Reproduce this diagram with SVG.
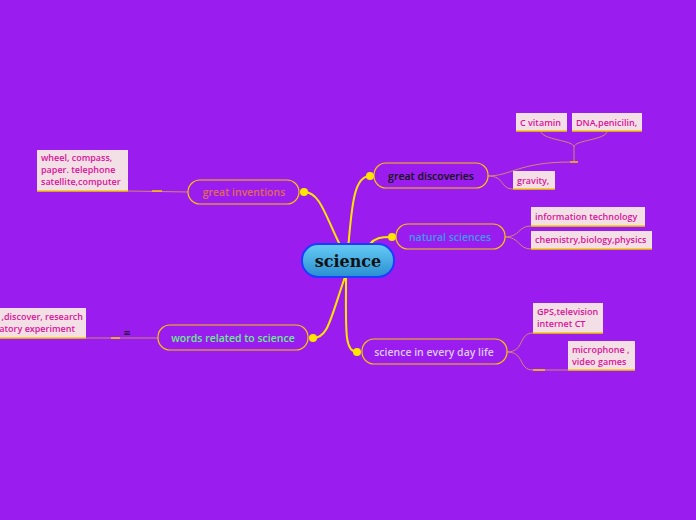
<svg xmlns="http://www.w3.org/2000/svg" width="696" height="520" viewBox="0 0 696 520">
<style>
.pill{fill:none;stroke:#f5c800;stroke-width:1.2}
.t{font-family:"Open Sans","DejaVu Sans",sans-serif;font-size:10.5px;font-weight:600;text-anchor:middle}
.leaf{fill:#f2e0e6}
.lt{font-family:"Open Sans","DejaVu Sans",sans-serif;font-size:9px;font-weight:600;fill:#dd1199}
.ub{stroke:#f5c800;stroke-width:1.5}
.thin{fill:none;stroke:#d08a70;stroke-width:1}
.main{fill:none;stroke:#ffe600;stroke-width:2}
.dot{fill:#ffe600}
</style>
<defs>
<linearGradient id="g" x1="0" y1="0" x2="0" y2="1">
<stop offset="0" stop-color="#66ccf5"/><stop offset="1" stop-color="#2a8fd0"/>
</linearGradient>
</defs>
<rect width="696" height="520" fill="#9b1cef"/>
<g id="connectors">
<path class="main" d="M348,250 C352,200 355,176 370,176"/>
<path class="main" d="M370,244 C375,238 380,237 392,237"/>
<path class="main" d="M346,277 C346,330 344,352 357,352"/>
<path class="main" d="M340,245 C325,215 320,192 304,192"/>
<path class="main" d="M345,277 C330,320 328,338 313,338"/>
<path class="thin" d="M488,176 C505,176 500,189 513,189"/>
<path class="thin" d="M488,176 C510,176 520,162 570,162 M574,162 L574,147 M574,147 C574,140 541,140 541,131 M574,147 C574,140 607,140 607,131"/>
<line class="ub" x1="570" y1="162" x2="578" y2="162"/>
<path class="thin" d="M505,237 C520,237 518,226 531,226 M505,237 C520,237 518,249 531,249"/>
<path class="thin" d="M507,352 C525,352 518,333 533,333 M507,352 C525,352 518,370 533,370 L568,370"/>
<line class="ub" x1="533" y1="370" x2="545" y2="370"/>
<path class="thin" d="M188,192 L128,191"/>
<line class="ub" x1="152" y1="191" x2="162" y2="191"/>
<path class="thin" d="M158,338 L86,338"/>
<line class="ub" x1="111" y1="338" x2="120" y2="338"/>
</g>
<g id="science">
<rect x="302" y="244" width="92" height="33" rx="16" fill="url(#g)" stroke="#1a3cff" stroke-width="2"/>
<text x="348" y="267" text-anchor="middle" font-family="'DejaVu Serif','Liberation Serif',serif" font-weight="bold" font-size="16" fill="#111">science</text>
</g>
<g id="discoveries"><rect class="pill" x="374" y="163" width="114" height="25" rx="12"/><circle class="dot" cx="370" cy="176" r="4"/><text class="t" x="431" y="180" fill="#111">great discoveries</text></g>
<g id="natural"><rect class="pill" x="396" y="224" width="109" height="25" rx="12"/><circle class="dot" cx="392" cy="237" r="4"/><text class="t" x="450" y="241" fill="#3a9cf0">natural sciences</text></g>
<g id="everyday"><rect class="pill" x="362" y="339" width="145" height="25" rx="12"/><circle class="dot" cx="357" cy="352" r="4"/><text class="t" x="434" y="356" fill="#ddc8f5">science in every day life</text></g>
<g id="inventions"><rect class="pill" x="188" y="180" width="111" height="24" rx="12"/><circle class="dot" cx="304" cy="192" r="4"/><text class="t" x="244" y="196" fill="#e06a5a">great inventions</text></g>
<g id="words"><rect class="pill" x="158" y="325" width="150" height="25" rx="12"/><circle class="dot" cx="313" cy="338" r="4"/><text class="t" x="233" y="342" fill="#66ee88">words related to science</text></g>
<g id="cvit"><rect class="leaf" x="516" y="113" width="51" height="18"/><line class="ub" x1="516" y1="131" x2="567" y2="131"/><text class="lt" x="520" y="126">C vitamin</text></g>
<g id="dna"><rect class="leaf" x="572" y="113" width="70" height="18"/><line class="ub" x1="572" y1="131" x2="642" y2="131"/><text class="lt" x="576" y="126">DNA,penicilin,</text></g>
<g id="gravity"><rect class="leaf" x="513" y="171" width="42" height="18"/><line class="ub" x1="513" y1="189" x2="555" y2="189"/><text class="lt" x="517" y="184">gravity,</text></g>
<g id="infotech"><rect class="leaf" x="531" y="207" width="114" height="19"/><line class="ub" x1="531" y1="226" x2="645" y2="226"/><text class="lt" x="535" y="220">information technology</text></g>
<g id="chem"><rect class="leaf" x="531" y="231" width="121" height="18"/><line class="ub" x1="531" y1="249" x2="652" y2="249"/><text class="lt" x="535" y="243">chemistry,biology,physics</text></g>
<g id="gps"><rect class="leaf" x="533" y="303" width="70" height="30"/><line class="ub" x1="533" y1="333" x2="603" y2="333"/><text class="lt" x="537" y="315">GPS,television</text><text class="lt" x="537" y="327">internet CT</text></g>
<g id="micro"><rect class="leaf" x="568" y="341" width="67" height="29"/><line class="ub" x1="568" y1="370" x2="635" y2="370"/><text class="lt" x="572" y="353">microphone ,</text><text class="lt" x="572" y="365">video games</text></g>
<g id="wheel"><rect class="leaf" x="37" y="150" width="91" height="41"/><line class="ub" x1="37" y1="191" x2="128" y2="191"/><text class="lt" x="41" y="161">wheel, compass,</text><text class="lt" x="41" y="173">paper. telephone</text><text class="lt" x="41" y="185">satellite,computer</text></g>
<g id="wordsleaf"><rect class="leaf" x="-10" y="308" width="96" height="30"/><line class="ub" x1="-10" y1="338" x2="86" y2="338"/><text class="lt" x="83" y="320" text-anchor="end">,discover, research</text><text class="lt" x="75" y="332" text-anchor="end">atory experiment</text></g>
<text x="127" y="336" font-family="'DejaVu Sans',sans-serif" font-size="9" fill="#111" text-anchor="middle">≡</text>
</svg>
